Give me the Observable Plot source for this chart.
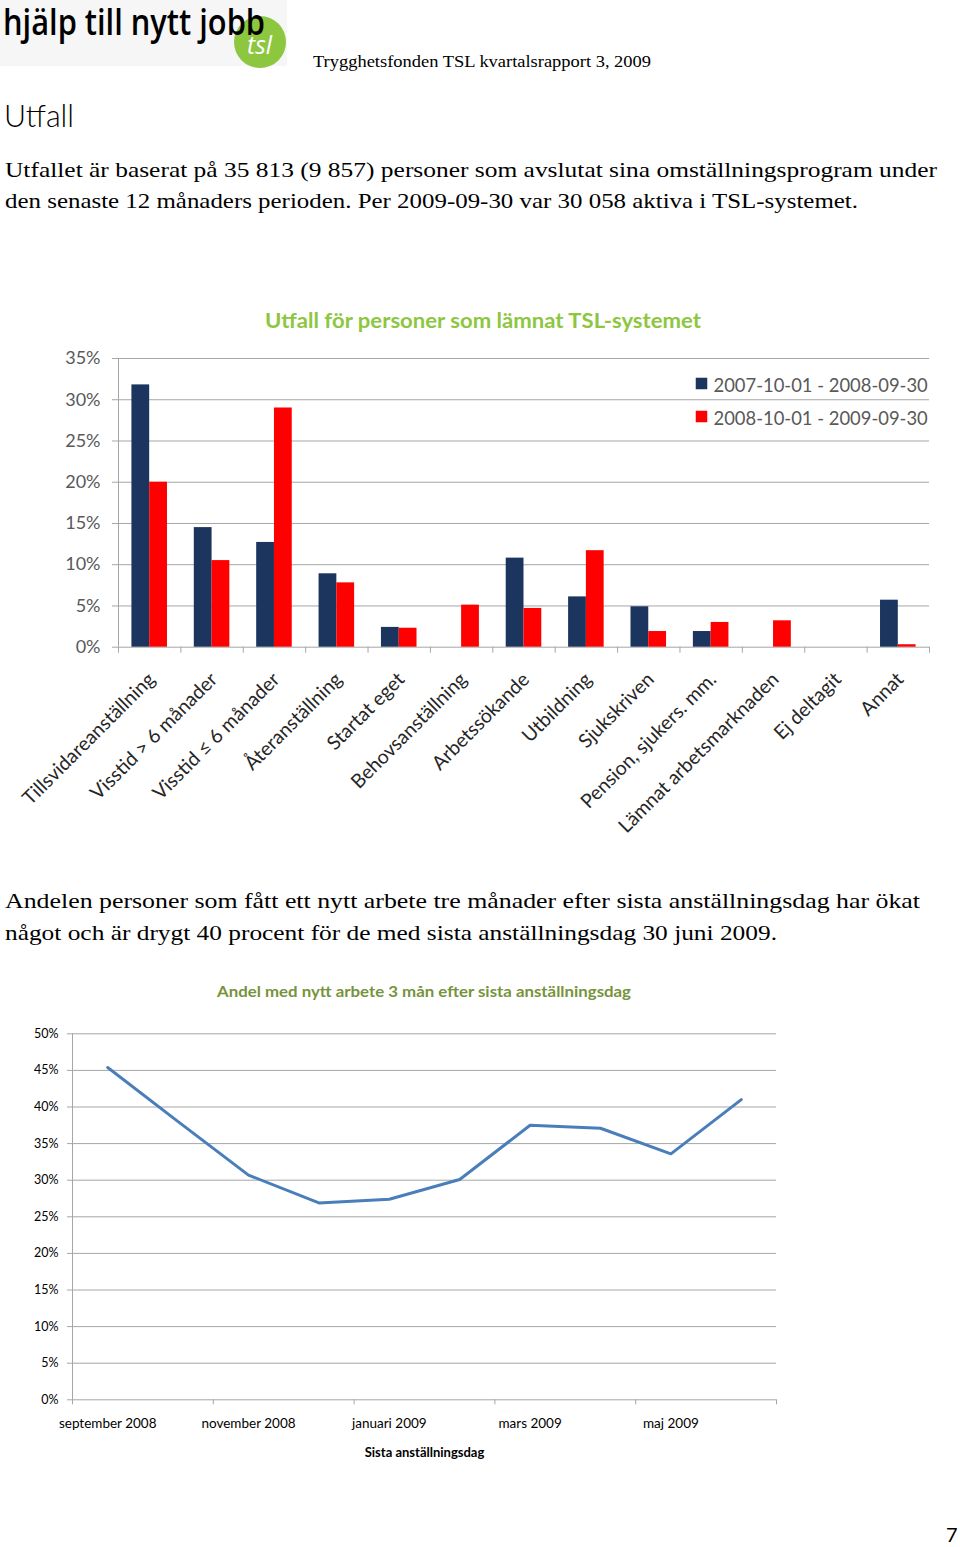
<!DOCTYPE html>
<html><head><meta charset="utf-8">
<script src="https://cdn.jsdelivr.net/npm/d3@7"></script>
<script src="https://cdn.jsdelivr.net/npm/@observablehq/plot@0.6"></script>
<style>
html,body{margin:0;padding:0;background:#fff;}
#page{position:relative;width:960px;height:1547px;overflow:hidden;background:#fff;}
.t{position:absolute;white-space:nowrap;transform-origin:0 50%;line-height:1;}
.chart{position:absolute;left:0;}
</style></head><body><div id="page"></div>
<script>
// ---- Bar chart data (share of persons, %) ----
const categories = ["Tillsvidareanställning","Visstid > 6 månader","Visstid ≤ 6 månader","Återanställning","Startat eget","Behovsanställning","Arbetssökande","Utbildning","Sjukskriven","Pension, sjukers. mm.","Lämnat arbetsmarknaden","Ej deltagit","Annat"];
const period1 = [31.8, 14.5, 12.7, 8.9, 2.4, 0, 10.8, 6.1, 4.9, 1.9, 0, 0, 5.7];
const period2 = [20.0, 10.5, 29.0, 7.8, 2.3, 5.1, 4.7, 11.7, 1.9, 3.0, 3.2, 0, 0.3];
const seriesNames = ["2007-10-01 - 2008-09-30", "2008-10-01 - 2009-09-30"];
const barTicks = [0, 5, 10, 15, 20, 25, 30, 35];
const barTitle = "Utfall för personer som lämnat TSL-systemet";

// ---- Line chart data ----
const months = ["september 2008","oktober 2008","november 2008","december 2008","januari 2009","februari 2009","mars 2009","april 2009","maj 2009","juni 2009"];
const employedShare = [45.4, 38.0, 30.7, 26.9, 27.4, 30.1, 37.5, 37.1, 33.6, 41.0];
const lineTicks = [0, 5, 10, 15, 20, 25, 30, 35, 40, 45, 50];
const lineTitle = "Andel med nytt arbete 3 mån efter sista anställningsdag";
const lineXLabel = "Sista anställningsdag";

const page = document.getElementById("page");

function addText(str, o) {
  const el = document.createElement("div");
  el.className = "t";
  el.textContent = str;
  Object.assign(el.style, {
    left: o.x + "px", top: (o.cy - o.size / 2) + "px", fontSize: o.size + "px",
    fontFamily: o.font, fontWeight: o.weight || 400, color: o.color || "#000",
    fontStyle: o.style || "normal"
  });
  page.appendChild(el);
  if (o.w) {
    const w = el.getBoundingClientRect().width;
    el.style.transform = `scaleX(${o.w / w})`;
  }
  return el;
}

// Header / logo
const bg = document.createElement("div");
Object.assign(bg.style, {position:"absolute", left:"0px", top:"0px", width:"287px", height:"66px", background:"#f6f6f6"});
page.appendChild(bg);
const circ = document.createElement("div");
Object.assign(circ.style, {position:"absolute", left:"234px", top:"16px", width:"52px", height:"52px", borderRadius:"50%", background:"#8dc63f"});
page.appendChild(circ);
addText("hjälp till nytt jobb", {x:3, cy:22, size:36, font:"Open Sans", weight:600, w:262});
addText("tsl", {x:247, cy:44, size:26, font:"Open Sans", style:"italic", color:"#fff", w:25});
addText("Trygghetsfonden TSL kvartalsrapport 3, 2009", {x:313, cy:61, size:17, font:"Liberation Serif", w:338});
addText("Utfall", {x:4, cy:115, size:32, font:"Lato", weight:300, w:70});
addText("Utfallet är baserat på 35 813 (9 857) personer som avslutat sina omställningsprogram under", {x:5, cy:170, size:22, font:"Liberation Serif", w:932});
addText("den senaste 12 månaders perioden. Per 2009-09-30 var 30 058 aktiva i TSL-systemet.", {x:5, cy:201, size:22, font:"Liberation Serif", w:853});
addText(barTitle, {x:265, cy:320, size:20, font:"Lato", weight:700, color:"#8dc63f", w:436});
addText("Andelen personer som fått ett nytt arbete tre månader efter sista anställningsdag har ökat", {x:5, cy:901, size:22, font:"Liberation Serif", w:915});
addText("något och är drygt 40 procent för de med sista anställningsdag 30 juni 2009.", {x:5, cy:933, size:22, font:"Liberation Serif", w:772});
addText(lineTitle, {x:217, cy:991, size:16, font:"Lato", weight:700, color:"#77933c", w:414});
addText("7", {x:946, cy:1534, size:20, font:"Lato"});

// ---- Bar chart ----
const barData = categories.flatMap((c, i) => [
  {i, cat: c, series: seriesNames[0], value: period1[i], side: 0},
  {i, cat: c, series: seriesNames[1], value: period2[i], side: 1}
]);
const BW = 0.285;
const grey = "#a6a6a6";
const barChart = Plot.plot({
  width: 960, height: 520,
  marginLeft: 118, marginRight: 31, marginTop: 18, marginBottom: 213.3,
  style: {fontFamily: "Lato", fontSize: "17px", color: "#404040", background: "transparent"},
  x: {type: "linear", domain: [-0.5, categories.length - 0.5], axis: null, label: null},
  y: {domain: [0, 35], axis: null, label: null},
  color: {domain: seriesNames, range: ["#1c355e", "#ff0000"]},
  marks: [
    Plot.gridY(barTicks, {stroke: grey, strokeOpacity: 1}),
    Plot.ruleX([-0.5], {stroke: grey}),
    Plot.axisY(barTicks, {tickSize: 6, tickPadding: 12, tickFormat: d => d + "%", stroke: grey, fill: "#595959", fontSize: 18, label: null}),
    Plot.axisX(d3.range(-0.5, categories.length, 1), {tickSize: 6, tickFormat: () => "", stroke: grey, label: null}),
    Plot.axisX(d3.range(categories.length), {tickSize: 0, tickPadding: 29, tickRotate: -45, tickFormat: i => categories[i], fill: "#262626", fontSize: 19.5, dx: 2, label: null}),
    Plot.rect(barData, {
      x1: d => d.i - (d.side === 0 ? BW : 0),
      x2: d => d.i + (d.side === 0 ? 0 : BW),
      y1: d => 0, y2: "value", fill: "series"
    }),
    Plot.dot([seriesNames[0]], {frameAnchor: "top-right", dx: -228, dy: 25, symbol: "square", r: 6.5, fill: d => d, stroke: null}),
    Plot.dot([seriesNames[1]], {frameAnchor: "top-right", dx: -228, dy: 58, symbol: "square", r: 6.5, fill: d => d, stroke: null}),
    Plot.text([seriesNames[0]], {frameAnchor: "top-right", dx: -216, dy: 20, text: d => d, textAnchor: "start", fontSize: 18.4, fill: "#595959"}),
    Plot.text([seriesNames[1]], {frameAnchor: "top-right", dx: -216, dy: 53, text: d => d, textAnchor: "start", fontSize: 18.4, fill: "#595959"})
  ]
});
const barWrap = document.createElement("div");
barWrap.className = "chart"; barWrap.style.top = "340px";
barWrap.appendChild(barChart);
page.appendChild(barWrap);

// ---- Line chart ----
const lineChart = Plot.plot({
  width: 960, height: 470,
  marginLeft: 72, marginRight: 184, marginTop: 23.3, marginBottom: 80.7,
  style: {fontFamily: "Lato", fontSize: "13px", color: "#000", background: "transparent"},
  x: {type: "linear", domain: [-0.5, months.length - 0.5], axis: null, label: null},
  y: {domain: [0, 50], axis: null, label: null},
  marks: [
    Plot.gridY(lineTicks, {stroke: grey, strokeOpacity: 1}),
    Plot.ruleX([-0.5], {stroke: grey}),
    Plot.axisY(lineTicks, {tickSize: 5, tickPadding: 9, tickFormat: d => d + "%", stroke: grey, fill: "#000", fontSize: 12.5, label: null}),
    Plot.axisX(d3.range(-0.5, months.length, 2), {tickSize: 5, tickFormat: () => "", stroke: grey, label: null}),
    Plot.axisX(d3.range(0, months.length, 2), {tickSize: 0, tickPadding: 19, tickFormat: i => months[i], fill: "#000", fontSize: 13.5, label: null}),
    Plot.text([lineXLabel], {frameAnchor: "bottom", dy: 57, text: d => d, fontWeight: "bold", fontSize: 13, fill: "#000"}),
    Plot.lineY(employedShare, {x: (d, i) => i, y: d => d, stroke: "#4a7ebb", strokeWidth: 3})
  ]
});
const lineWrap = document.createElement("div");
lineWrap.className = "chart"; lineWrap.style.top = "1010px";
lineWrap.appendChild(lineChart);
page.appendChild(lineWrap);
</script>
</body></html>
